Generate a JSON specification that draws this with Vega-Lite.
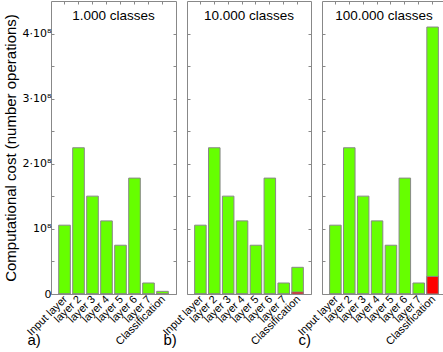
{
  "$schema": "https://vega.github.io/schema/vega-lite/v6.json",
  "padding": {"left": 2, "right": 1, "top": 0, "bottom": 0},
  "background": "white",
  "spacing": 11,
  "bounds": "flush",
  "datasets": {
    "costs": [
      {"panel": "a", "layer": "Input layer", "total": 105700000, "red": 0},
      {"panel": "a", "layer": "layer 2", "total": 224600000, "red": 0},
      {"panel": "a", "layer": "layer 3", "total": 150300000, "red": 0},
      {"panel": "a", "layer": "layer 4", "total": 112300000, "red": 0},
      {"panel": "a", "layer": "layer 5", "total": 74900000, "red": 0},
      {"panel": "a", "layer": "layer 6", "total": 178000000, "red": 0},
      {"panel": "a", "layer": "layer 7", "total": 16900000, "red": 0},
      {"panel": "a", "layer": "Classification", "total": 4100000, "red": 300000},
      {"panel": "b", "layer": "Input layer", "total": 105700000, "red": 0},
      {"panel": "b", "layer": "layer 2", "total": 224600000, "red": 0},
      {"panel": "b", "layer": "layer 3", "total": 150300000, "red": 0},
      {"panel": "b", "layer": "layer 4", "total": 112300000, "red": 0},
      {"panel": "b", "layer": "layer 5", "total": 74900000, "red": 0},
      {"panel": "b", "layer": "layer 6", "total": 178000000, "red": 0},
      {"panel": "b", "layer": "layer 7", "total": 16900000, "red": 0},
      {"panel": "b", "layer": "Classification", "total": 41000000, "red": 3000000},
      {"panel": "c", "layer": "Input layer", "total": 105700000, "red": 0},
      {"panel": "c", "layer": "layer 2", "total": 224600000, "red": 0},
      {"panel": "c", "layer": "layer 3", "total": 150300000, "red": 0},
      {"panel": "c", "layer": "layer 4", "total": 112300000, "red": 0},
      {"panel": "c", "layer": "layer 5", "total": 74900000, "red": 0},
      {"panel": "c", "layer": "layer 6", "total": 178000000, "red": 0},
      {"panel": "c", "layer": "layer 7", "total": 16900000, "red": 0},
      {"panel": "c", "layer": "Classification", "total": 410000000, "red": 27000000}
    ]
  },
  "config": {
    "font": "Liberation Sans",
    "view": {"stroke": "#888888", "strokeWidth": 1},
    "axis": {"domain": false, "grid": false, "tickColor": "#888888", "tickSize": -3, "labelColor": "black", "labelFont": "Liberation Sans", "labelFontSize": 11, "titleFont": "Liberation Sans", "titleFontWeight": "normal", "titleColor": "black"},
    "title": {"font": "Liberation Sans", "fontSize": 13.5, "fontWeight": "normal", "color": "black"}
  },
  "hconcat": [
    {
      "width": 125, "height": 293,
      "title": {"text": "1.000 classes", "offset": -22},
      "data": {"name": "costs"},
      "transform": [{"filter": "datum.panel == 'a'"}],
      "resolve": {"axis": {"x": "independent", "y": "independent"}},
      "layer": [
        {
          "mark": {"type": "bar", "color": "#66ff00", "stroke": "#888888", "strokeWidth": 1},
          "encoding": {
            "x": {"field": "layer", "type": "nominal", "sort": ["Input layer", "layer 2", "layer 3", "layer 4", "layer 5", "layer 6", "layer 7", "Classification"], "scale": {"paddingInner": 0.17, "paddingOuter": 0.55}, "axis": {"labelAngle": -45, "labelPadding": 2, "labelOffset": -3, "title": "a)", "titleFontSize": 15, "titleAnchor": "start", "titleAlign": "left", "titleX": -24, "titleY": 50, "titleBaseline": "alphabetic"}},
            "y": {"field": "total", "type": "quantitative", "scale": {"domain": [0, 450000000], "nice": false}, "axis": {"values": [0, 50000000, 100000000, 150000000, 200000000, 250000000, 300000000, 350000000, 400000000], "labelExpr": "datum.value == 0 ? '0' : datum.value % 100000000 != 0 ? '' : datum.value == 100000000 ? '10⁸' : (datum.value / 100000000) + '·10⁸'", "labelFont": "DejaVu Sans", "labelFontSize": 11, "labelPadding": 3, "title": "Computational cost (number operations)", "titleFontSize": 15, "titlePadding": 4}}
          }
        },
        {
          "mark": {"type": "bar", "color": "#ff0000", "stroke": "#888888", "strokeWidth": 1},
          "encoding": {
            "x": {"field": "layer", "type": "nominal", "sort": ["Input layer", "layer 2", "layer 3", "layer 4", "layer 5", "layer 6", "layer 7", "Classification"], "axis": {"orient": "top", "labels": false, "title": null}},
            "y": {"field": "red", "type": "quantitative", "scale": {"domain": [0, 450000000], "nice": false}, "axis": {"orient": "right", "values": [0, 50000000, 100000000, 150000000, 200000000, 250000000, 300000000, 350000000, 400000000], "labels": false, "title": null}}
          }
        }
      ]
    },
    {
      "width": 124, "height": 293,
      "title": {"text": "10.000 classes", "offset": -22},
      "data": {"name": "costs"},
      "transform": [{"filter": "datum.panel == 'b'"}],
      "resolve": {"axis": {"x": "independent", "y": "independent"}},
      "layer": [
        {
          "mark": {"type": "bar", "color": "#66ff00", "stroke": "#888888", "strokeWidth": 1},
          "encoding": {
            "x": {"field": "layer", "type": "nominal", "sort": ["Input layer", "layer 2", "layer 3", "layer 4", "layer 5", "layer 6", "layer 7", "Classification"], "scale": {"paddingInner": 0.17, "paddingOuter": 0.55}, "axis": {"labelAngle": -45, "labelPadding": 2, "labelOffset": -3, "title": "b)", "titleFontSize": 15, "titleAnchor": "start", "titleAlign": "left", "titleX": -24, "titleY": 50, "titleBaseline": "alphabetic"}},
            "y": {"field": "total", "type": "quantitative", "scale": {"domain": [0, 450000000], "nice": false}, "axis": {"values": [0, 50000000, 100000000, 150000000, 200000000, 250000000, 300000000, 350000000, 400000000], "labels": false, "title": null}}
          }
        },
        {
          "mark": {"type": "bar", "color": "#ff0000", "stroke": "#888888", "strokeWidth": 1},
          "encoding": {
            "x": {"field": "layer", "type": "nominal", "sort": ["Input layer", "layer 2", "layer 3", "layer 4", "layer 5", "layer 6", "layer 7", "Classification"], "axis": {"orient": "top", "labels": false, "title": null}},
            "y": {"field": "red", "type": "quantitative", "scale": {"domain": [0, 450000000], "nice": false}, "axis": {"orient": "right", "values": [0, 50000000, 100000000, 150000000, 200000000, 250000000, 300000000, 350000000, 400000000], "labels": false, "title": null}}
          }
        }
      ]
    },
    {
      "width": 124, "height": 293,
      "title": {"text": "100.000 classes", "offset": -22},
      "data": {"name": "costs"},
      "transform": [{"filter": "datum.panel == 'c'"}],
      "resolve": {"axis": {"x": "independent", "y": "independent"}},
      "layer": [
        {
          "mark": {"type": "bar", "color": "#66ff00", "stroke": "#888888", "strokeWidth": 1},
          "encoding": {
            "x": {"field": "layer", "type": "nominal", "sort": ["Input layer", "layer 2", "layer 3", "layer 4", "layer 5", "layer 6", "layer 7", "Classification"], "scale": {"paddingInner": 0.17, "paddingOuter": 0.55}, "axis": {"labelAngle": -45, "labelPadding": 2, "labelOffset": -3, "title": "c)", "titleFontSize": 15, "titleAnchor": "start", "titleAlign": "left", "titleX": -24, "titleY": 50, "titleBaseline": "alphabetic"}},
            "y": {"field": "total", "type": "quantitative", "scale": {"domain": [0, 450000000], "nice": false}, "axis": {"values": [0, 50000000, 100000000, 150000000, 200000000, 250000000, 300000000, 350000000, 400000000], "labels": false, "title": null}}
          }
        },
        {
          "mark": {"type": "bar", "color": "#ff0000", "stroke": "#888888", "strokeWidth": 1},
          "encoding": {
            "x": {"field": "layer", "type": "nominal", "sort": ["Input layer", "layer 2", "layer 3", "layer 4", "layer 5", "layer 6", "layer 7", "Classification"], "axis": {"orient": "top", "labels": false, "title": null}},
            "y": {"field": "red", "type": "quantitative", "scale": {"domain": [0, 450000000], "nice": false}, "axis": {"orient": "right", "values": [0, 50000000, 100000000, 150000000, 200000000, 250000000, 300000000, 350000000, 400000000], "labels": false, "title": null}}
          }
        }
      ]
    }
  ]
}
